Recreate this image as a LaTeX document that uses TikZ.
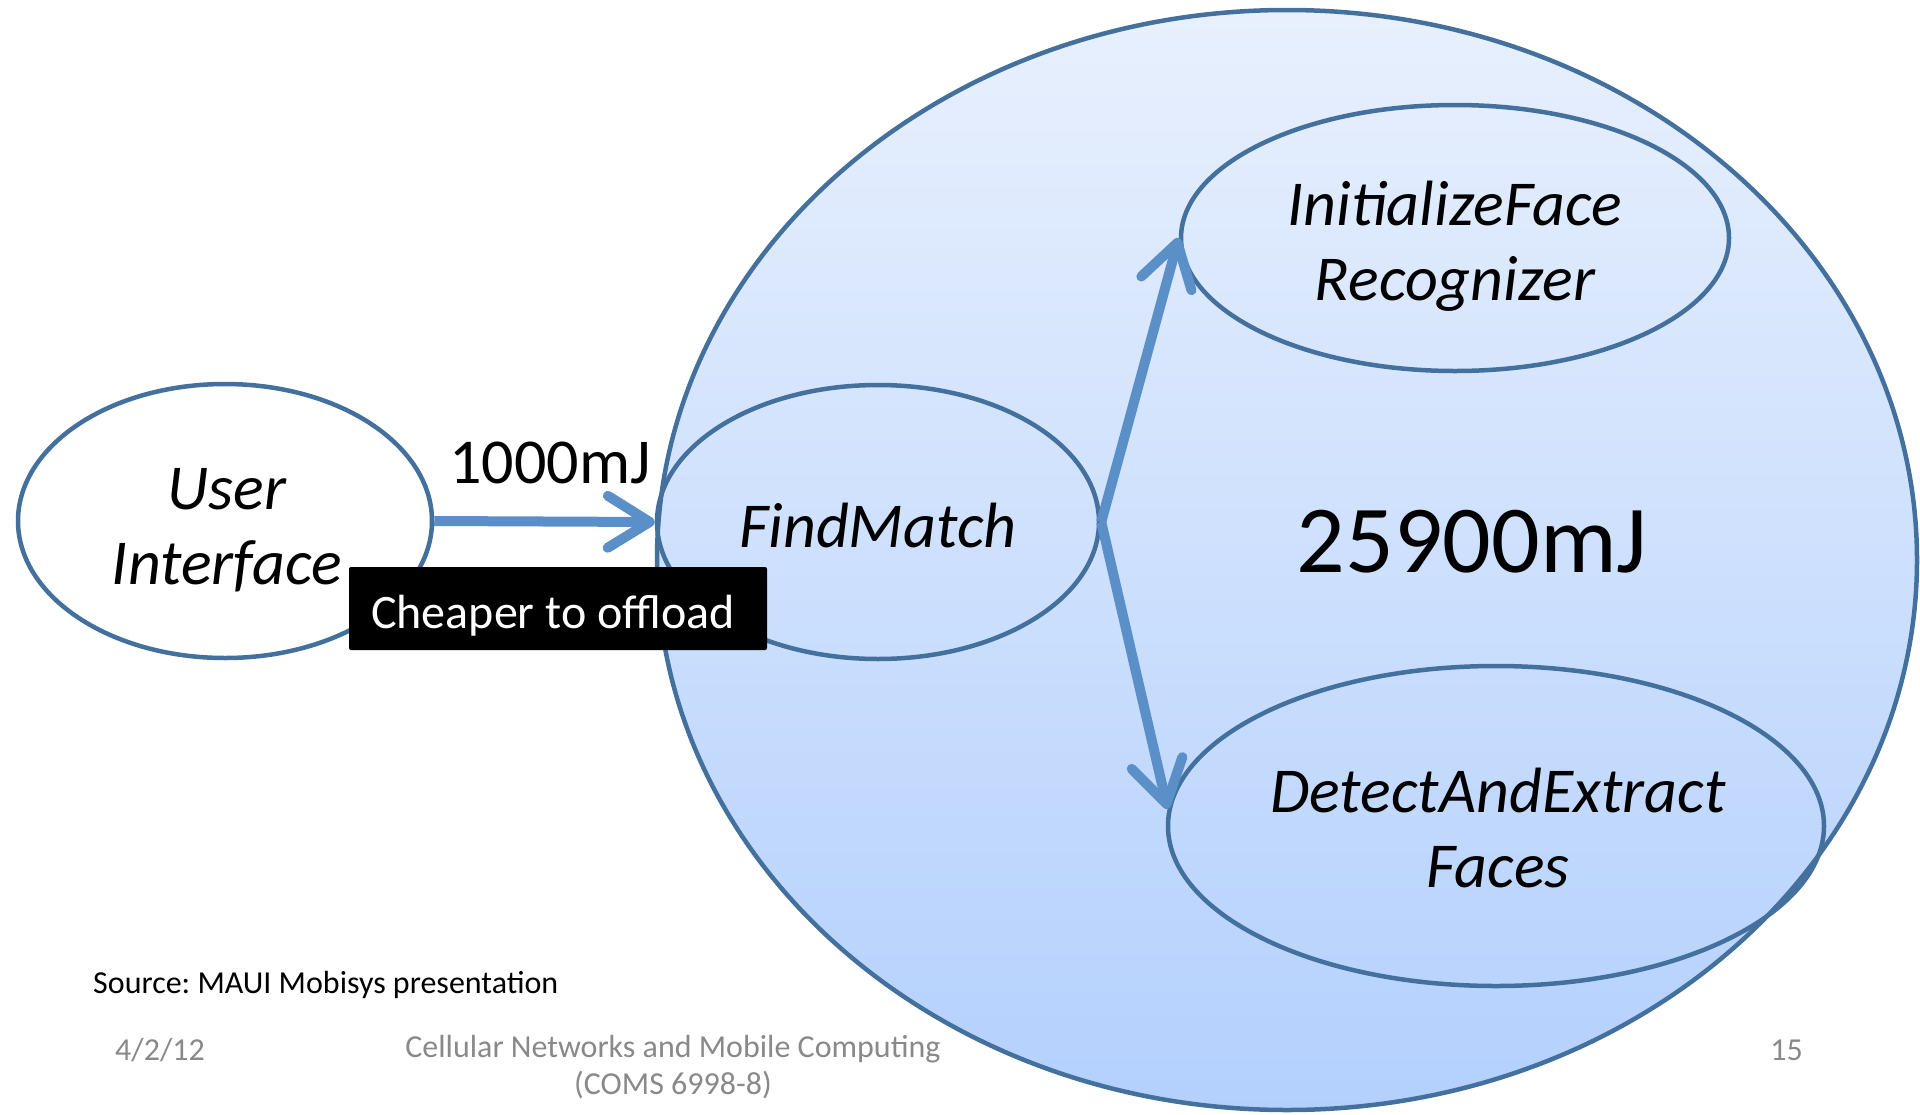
\documentclass[tikz,border=0pt]{standalone}
\usepackage{fontspec}
\setmainfont{Carlito}
\usetikzlibrary{shapes.geometric,arrows.meta}
\frenchspacing

\definecolor{edge}{HTML}{44709E}
\definecolor{flow}{HTML}{5A8FC8}
\definecolor{topfill}{HTML}{E8F0FD}
\definecolor{botfill}{HTML}{B3D0FD}
\definecolor{footgray}{HTML}{898989}

\begin{document}
\begin{tikzpicture}[x=1pt,y=-1pt,
  oval/.style={ellipse, draw=edge, line width=4.5pt, inner sep=0pt},
  flowarrow/.style={draw=flow, line width=10pt,
    -{Straight Barb[length=42pt,width=52pt,round]}},
  lbl/.style={font=\fontsize{64}{75}\selectfont\itshape, align=center, inner sep=0pt},
  energy/.style={inner sep=0pt},
  foot/.style={font=\fontsize{32}{37}\selectfont, text=footgray, inner sep=0pt}
]
\useasboundingbox (0,0) rectangle (1920,1114);

% remote side: shaded cloud holding the offloaded methods
\node[oval, top color=topfill, bottom color=botfill,
      minimum width=1260pt, minimum height=1100pt] (cloud) at (1287,560) {};

% method ellipses
\node[oval, fill=white, minimum width=414pt, minimum height=274pt] (ui) at (225,521) {};
\node[oval, minimum width=442pt, minimum height=274pt] (fm) at (878,522) {};
\node[oval, minimum width=548pt, minimum height=266pt] (init) at (1455,238) {};
\node[oval, minimum width=656pt, minimum height=320pt] (det) at (1496,826) {};

% method names (base anchor sits on the last line)
\node[lbl, anchor=base] (uitxt) at (227,584) {User\\Interface};
\node[lbl, anchor=base] (fmtxt) at (878,547) {FindMatch};
\node[lbl, anchor=base] (inittxt) at (1455,300) {InitializeFace\\Recognizer};
\node[lbl, anchor=base] (dettxt) at (1498,887) {DetectAndExtract\\Faces};

% call edges
\draw[flowarrow] (ui.east) -- (fm.west);
\draw[flowarrow] (fm.east) -- (init.west);
\draw[flowarrow] (fm.east) -- (det.177);

% energy figures
\node[energy, anchor=base, font=\fontsize{64}{75}\selectfont] (local) at (550,483) {1000mJ};
\node[energy, anchor=base, font=\fontsize{96}{115}\selectfont] (remote) at (1472,572) {25900mJ};

% verdict tag
\node[fill=black, rounded corners=2pt, minimum width=418pt, minimum height=83pt,
      inner sep=0pt] (tag) at (558,608.5) {};
\node[anchor=base, text=white, font=\fontsize{48}{58}\selectfont, inner sep=0pt]
  (tagtxt) at (553,628) {Cheaper to offload};

% credits and footer
\node[anchor=base west, inner sep=0pt, font=\fontsize{32}{38}\selectfont] (src) at (93,993)
  {Source: MAUI Mobisys presentation};
\node[foot, anchor=base west] (date) at (115,1060) {4/2/12};
\node[foot, anchor=base, align=center] (course) at (673,1094)
  {Cellular Networks and Mobile Computing\\(COMS 6998-8)};
\node[foot, anchor=base east] (page) at (1803,1060) {15};
\end{tikzpicture}
\end{document}
